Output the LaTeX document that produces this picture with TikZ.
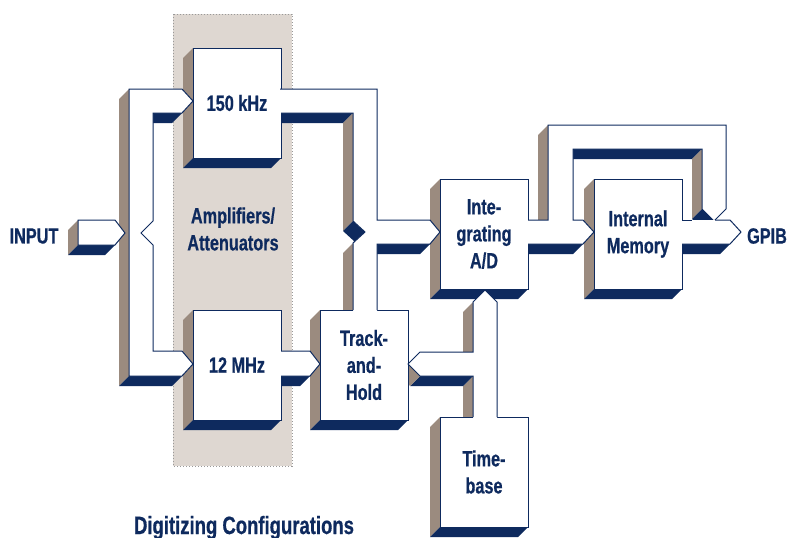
\documentclass[tikz,border=0pt]{standalone}
\usepackage{fontspec}
\newfontfamily\hpfont{Liberation Sans}[FakeStretch=0.74, BoldFeatures={FakeBold=0.6}]
\usetikzlibrary{calc}
\definecolor{hpnavy}{HTML}{0E2A5E}
\definecolor{hptaupe}{HTML}{9B8B7F}
\definecolor{hpband}{HTML}{DED7D1}
\pgfdeclarelayer{bandlayer}
\pgfdeclarelayer{facelayer}
\pgfsetlayers{bandlayer,facelayer,main}
\tikzset{
  labeltext/.style={text=hpnavy, align=center,
    font=\hpfont\bfseries\fontsize{22}{27}\selectfont},
  rim/.style={draw=hpnavy, line width=1pt},
  pipefill/.style={fill=white},
  sideface/.style={fill=hptaupe},
  baseface/.style={fill=hpnavy},
  block/.style={labeltext, fill=white, rim, inner sep=0pt, outer sep=0pt,
    minimum width=88pt, minimum height=110pt, anchor=north west},
}
% left (taupe) and bottom (navy) faces of a block
\newcommand{\extrude}[1]{%
  \fill[sideface] (#1.north west) -- (#1.south west) -- ++(-10,10)
    -- ($(#1.north west)+(-10,10)$) -- cycle;
  \fill[baseface] (#1.south west) -- (#1.south east) -- ++(-10,10)
    -- ($(#1.south west)+(-10,10)$) -- cycle;
}
\begin{document}
\begin{tikzpicture}[x=1pt,y=-1pt]
  \useasboundingbox (0,0) rectangle (787,538);
  \begin{pgfonlayer}{bandlayer}
    \fill[hpband] (173,14) rectangle (292,466);
    \draw[gray!80, line width=0.8pt, dash pattern=on 1.2pt off 1.8pt] (173,14) rectangle (292,466);
  \end{pgfonlayer}

  \node[block] (khz) at (193,48) {150 kHz};
  \node[block] (mhz) at (193,310) {12 MHz};
  \node[block] (track) at (320,310) {Track-\\and-\\Hold};
  \node[block] (adc) at (440,179) {Inte-\\grating\\A/D};
  \node[block] (memory) at (594,179) {Internal\\Memory};
  \node[block] (timebase) at (440,417) {Time-\\base};
  \begin{pgfonlayer}{facelayer}
    \foreach \b in {khz,mhz,track,adc,memory,timebase} {\extrude{\b}}
  \end{pgfonlayer}

  \node[labeltext] (amps) at (233,229) {Amplifiers/\\Attenuators};
  \node[labeltext] (input) at (34,236) {INPUT};
  \node[labeltext] (gpib) at (767,236) {GPIB};
  \node[labeltext, anchor=base, font=\hpfont\bfseries\fontsize{25}{27}\selectfont] (caption) at (244,534) {Digitizing Configurations};

  % input stub
  \begin{pgfonlayer}{facelayer}
    \fill[sideface] (78,220) -- (78,245) -- (68,255) -- (68,230) -- cycle;
    \fill[baseface] (78,245) -- (115,245) -- (105,255) -- (68,255) -- cycle;
  \end{pgfonlayer}
  \draw[pipefill, rim] (78,220) -- (115,220) -- (125,233) -- (115,245) -- (78,245) -- cycle;

  % input bus to both amplifiers
  \begin{pgfonlayer}{facelayer}
    \fill[sideface] (129,89) -- (129,376) -- (119,386) -- (119,99) -- cycle;
    \fill[baseface] (129,376) -- (182,376) -- (172,386) -- (119,386) -- cycle;
    \fill[baseface] (153,113) -- (182,113) -- (172,123) -- (143,123) -- cycle;
  \end{pgfonlayer}
  \draw[pipefill, rim] (129,89) -- (182,89) -- (193,101) -- (182,113) -- (153,113)
    -- (153,221) -- (141,233) -- (153,245) -- (153,351) -- (182,351) -- (193,364)
    -- (182,376) -- (129,376) -- cycle;

  % 150 kHz out, to A/D and track-and-hold
  \begin{pgfonlayer}{facelayer}
    \fill[baseface] (281,113) -- (353,113) -- (343,123) -- (281,123) -- cycle;
    \fill[sideface] (353,113) -- (353,221) -- (343,231) -- (343,123) -- cycle;
    \fill[baseface] (353,221) -- (365,232) -- (355,242) -- (343,231) -- cycle;
    \fill[sideface] (353,243) -- (353,310) -- (343,310) -- (343,253) -- cycle;
    \fill[baseface] (377,244) -- (430,244) -- (420,254) -- (367,254) -- cycle;
  \end{pgfonlayer}
  \fill[pipefill] (280,89) -- (377,89) -- (377,220) -- (430,220) -- (440,232) -- (430,244)
    -- (377,244) -- (377,311) -- (353,311) -- (353,243) -- (365,232) -- (353,221)
    -- (353,113) -- (280,113) -- cycle;
  \draw[rim] (280,89) -- (377,89) -- (377,220) -- (430,220) -- (440,232) -- (430,244)
    -- (377,244) -- (377,310);
  \draw[rim] (353,310) -- (353,243) -- (365,232) -- (353,221) -- (353,113) -- (281,113);

  % 12 MHz out
  \begin{pgfonlayer}{facelayer}
    \fill[baseface] (281,376) -- (310,376) -- (300,386) -- (281,386) -- cycle;
  \end{pgfonlayer}
  \fill[pipefill] (280,351) -- (310,351) -- (320,364) -- (310,376) -- (280,376) -- cycle;
  \draw[rim] (281,351) -- (310,351) -- (320,364) -- (310,376) -- (281,376);

  % timebase to track-and-hold and A/D
  \begin{pgfonlayer}{facelayer}
    \fill[sideface] (473,302) -- (473,352) -- (463,362) -- (463,312) -- cycle;
    \fill[sideface] (473,376) -- (473,417) -- (463,417) -- (463,386) -- cycle;
    \fill[baseface] (420,376) -- (473,376) -- (463,386) -- (410,386) -- cycle;
    \fill[sideface] (408,364) -- (420,376) -- (410,386) -- (408,384) -- cycle;
  \end{pgfonlayer}
  \fill[pipefill] (473,418) -- (473,376) -- (420,376) -- (408,364) -- (420,352) -- (473,352)
    -- (473,302) -- (485,290) -- (497,302) -- (497,418) -- cycle;
  \draw[rim] (473,417) -- (473,376) -- (420,376) -- (408,364) -- (420,352) -- (473,352)
    -- (473,302) -- (485,290) -- (497,302) -- (497,417);

  % A/D out, to memory and round it
  \begin{pgfonlayer}{facelayer}
    \fill[sideface] (548,125) -- (548,220) -- (538,230) -- (538,135) -- cycle;
    \fill[baseface] (573,149) -- (702,149) -- (692,159) -- (563,159) -- cycle;
    \fill[sideface] (702,149) -- (702,209) -- (692,219) -- (692,159) -- cycle;
    \fill[baseface] (702,209) -- (714,221) -- (704,231) -- (692,219) -- cycle;
    \fill[baseface] (528,244) -- (583,244) -- (573,254) -- (528,254) -- cycle;
  \end{pgfonlayer}
  \fill[pipefill] (527,220) -- (548,220) -- (548,125) -- (726,125) -- (726,209) -- (714,221)
    -- (702,209) -- (702,149) -- (573,149) -- (573,220) -- (583,220) -- (594,232)
    -- (583,244) -- (527,244) -- cycle;
  \draw[rim] (528,220) -- (548,220) -- (548,125) -- (726,125) -- (726,209) -- (714,221)
    -- (702,209) -- (702,149) -- (573,149) -- (573,220) -- (583,220) -- (594,232)
    -- (583,244) -- (528,244);

  % memory out to GPIB
  \begin{pgfonlayer}{facelayer}
    \fill[baseface] (682,244) -- (730,244) -- (720,254) -- (682,254) -- cycle;
  \end{pgfonlayer}
  \fill[pipefill] (681,220) -- (730,220) -- (741,232) -- (730,244) -- (681,244) -- cycle;
  \draw[rim] (682,220) -- (692,220);
  \draw[rim] (715,220) -- (730,220) -- (741,232) -- (730,244) -- (682,244);
\end{tikzpicture}
\end{document}
